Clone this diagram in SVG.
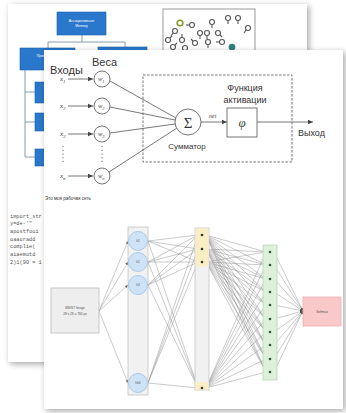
<svg xmlns="http://www.w3.org/2000/svg" width="346" height="413" viewBox="0 0 346 413">
<defs>
<filter id="sh" x="-10%" y="-10%" width="125%" height="125%">
<feDropShadow dx="2" dy="2" stdDeviation="3" flood-color="#000" flood-opacity="0.35"/>
</filter>
<marker id="ar" markerWidth="6" markerHeight="6" refX="5" refY="3" orient="auto" markerUnits="userSpaceOnUse">
<path d="M0,0.8 L5,3 L0,5.2 Z" fill="#444"/>
</marker>
<marker id="am" markerWidth="4" markerHeight="4" refX="3" refY="2" orient="auto" markerUnits="userSpaceOnUse">
<path d="M0,0.6 L3,2 L0,3.4 Z" fill="#555"/>
</marker>
</defs>
<style>
.page{fill:#fff;filter:url(#sh)}
.blue{fill:#2a78cc;stroke:#1d5ea6;stroke-width:0.6}
.wt{font-family:"Liberation Sans",sans-serif;font-size:3.5px;fill:#fff;text-anchor:middle}
.org{stroke:#8a9bb0;stroke-width:1;fill:none}
.gl{fill:none;stroke:#555;stroke-width:1.1}
.code{font-family:"Liberation Mono",monospace;font-size:5.3px;fill:#555}
.lab{font-family:"Liberation Sans",sans-serif;fill:#333}
.it{font-family:"Liberation Serif",serif;font-style:italic;fill:#444}
.wc{fill:#fff;stroke:#666;stroke-width:0.9}
.ln{stroke:#555;stroke-width:0.8;fill:none}
.nl{stroke:#888;stroke-width:0.45;fill:none;marker-end:url(#am)}
.tiny{font-family:"Liberation Sans",sans-serif;font-size:3.2px;fill:#555;text-anchor:middle}
</style>
<rect width="346" height="413" fill="#fff"/>

<g id="back-page">
<rect class="page" x="8" y="4" width="299" height="358"/>
<g id="org-chart">
<path class="org" d="M82,35 V42 M48,42 H125 M48,42 V48 M125,42 V48 M25,70 V157 M25,92 H35 M25,122 H35 M25,157 H35"/>
<rect class="blue" x="57" y="12" width="49" height="23"/>
<text class="wt" x="81.5" y="22">Ассоциативные</text>
<text class="wt" x="81.5" y="27">Memory</text>
<rect class="blue" x="20" y="48" width="55" height="22"/>
<text class="wt" x="47" y="57">Прикладные</text>
<text class="wt" x="47" y="62">Ген</text>
<rect class="blue" x="98" y="47" width="49" height="20"/>
<rect class="blue" x="35" y="82" width="20" height="21"/>
<rect class="blue" x="35" y="113" width="20" height="18"/>
<rect class="blue" x="35" y="149" width="20" height="17"/>
</g>
<g id="scatter">
<rect x="163" y="9" width="92" height="50" fill="#fff" stroke="#999" stroke-width="1"/>
<g class="gl">
<circle cx="175" cy="31" r="2.5"/><path d="M173,33 l-2,3"/>
<circle cx="180" cy="23" r="2.8" stroke="#8a9a2a" stroke-width="1.6"/>
<circle cx="192" cy="25" r="2.5"/><path d="M189,25 h-3"/>
<circle cx="200" cy="33" r="2.5"/><path d="M200,36 v3"/>
<circle cx="212" cy="22" r="2.5"/><path d="M212,25 v3"/>
<circle cx="228" cy="18" r="2.5"/><path d="M228,21 v3"/>
<circle cx="238" cy="18" r="2.5"/><path d="M238,21 v3"/>
<circle cx="248" cy="28" r="2.5"/><path d="M246,30 l-2,3"/>
<circle cx="207" cy="33" r="2.5"/><path d="M207,36 v3"/>
<circle cx="218" cy="33" r="2.5"/><path d="M220,35 l2,2"/>
<circle cx="168" cy="40" r="2.5"/><path d="M170,38 l2,-2"/>
<circle cx="182" cy="40" r="2.5"/><path d="M182,37 v-3"/>
<circle cx="195" cy="43" r="2.5"/><path d="M193,41 l-2,-2"/>
<circle cx="208" cy="42" r="2.5"/><path d="M208,45 v3"/>
<circle cx="222" cy="42" r="2.5"/><path d="M219,42 h-3"/>
<circle cx="232" cy="47" r="2.8" fill="#2f7f7a" stroke="#2f7f7a"/>
<circle cx="173" cy="47" r="2.5"/><path d="M175,45 l2,-2"/>
<circle cx="185" cy="48" r="2.5"/>
</g>
</g>
<g id="code">
<text class="code" x="10" y="218">import_str</text>
<text class="code" x="10" y="225">y=de-'"</text>
<text class="code" x="10" y="233">apostfooi</text>
<text class="code" x="10" y="241">oaaoradd</text>
<text class="code" x="10" y="248">complie(</text>
<text class="code" x="10" y="256">aiaemotd</text>
<text class="code" x="10" y="264">2)1(90 = 1</text>
</g>
</g>

<g id="front-page">
<rect class="page" x="44" y="50" width="299" height="359"/>
</g>

<g id="perceptron">
<g id="labels">
<text class="lab" x="50" y="74" font-size="11">Входы</text>
<text class="lab" x="92" y="66" font-size="11">Веса</text>
</g>
<g id="connectors-perceptron">
<line class="ln" x1="68" y1="79" x2="93" y2="79" marker-end="url(#ar)"/>
<line class="ln" x1="68" y1="106" x2="93" y2="106" marker-end="url(#ar)"/>
<line class="ln" x1="68" y1="134" x2="93" y2="134" marker-end="url(#ar)"/>
<line class="ln" x1="68" y1="176" x2="93" y2="176" marker-end="url(#ar)"/>
<line class="ln" x1="110" y1="81" x2="176" y2="118"/>
<line class="ln" x1="110" y1="107" x2="175" y2="120"/>
<line class="ln" x1="110" y1="133" x2="175" y2="124"/>
<line class="ln" x1="109" y1="172" x2="177" y2="128"/>
<line class="ln" x1="201" y1="122" x2="227" y2="122" marker-end="url(#ar)"/>
<line class="ln" x1="257" y1="122" x2="313" y2="122" marker-end="url(#ar)"/>
<path d="M63,146 v18 M102,146 v18" stroke="#666" stroke-width="1" stroke-dasharray="1.2,2.5"/>
</g>
<g id="inputs">
<text class="it" x="60" y="81" font-size="7">x<tspan font-size="5" dy="1.5">1</tspan></text>
<text class="it" x="60" y="108" font-size="7">x<tspan font-size="5" dy="1.5">2</tspan></text>
<text class="it" x="60" y="136" font-size="7">x<tspan font-size="5" dy="1.5">3</tspan></text>
<text class="it" x="60" y="178" font-size="7">x<tspan font-size="5" dy="1.5">n</tspan></text>
</g>
<g id="weights">
<circle class="wc" cx="102" cy="79" r="8"/>
<text class="it" x="98" y="81" font-size="6.5">w<tspan font-size="4.5" dy="1.5">1</tspan></text>
<circle class="wc" cx="102" cy="106" r="8"/>
<text class="it" x="98" y="108" font-size="6.5">w<tspan font-size="4.5" dy="1.5">2</tspan></text>
<circle class="wc" cx="102" cy="134" r="8"/>
<text class="it" x="98" y="136" font-size="6.5">w<tspan font-size="4.5" dy="1.5">3</tspan></text>
<circle class="wc" cx="102" cy="176" r="8"/>
<text class="it" x="98" y="178" font-size="6.5">w<tspan font-size="4.5" dy="1.5">n</tspan></text>
</g>
<g id="activation-frame">
<rect x="143" y="75" width="149" height="87" fill="none" stroke="#666" stroke-width="0.9" stroke-dasharray="2.5,1.5"/>
<text class="lab" x="245" y="91" font-size="9" text-anchor="middle">Функция</text>
<text class="lab" x="245" y="103" font-size="9" text-anchor="middle">активации</text>
</g>
<g id="summator">
<circle class="wc" cx="188" cy="122" r="13"/>
<text x="188" y="127.5" font-family="Liberation Serif,serif" font-size="15" fill="#333" text-anchor="middle">Σ</text>
<text class="lab" x="187" y="149" font-size="8" text-anchor="middle">Сумматор</text>
<text class="it" x="209" y="118" font-size="6">net</text>
</g>
<g id="activation">
<rect x="227" y="108" width="30" height="29" fill="#fff" stroke="#666" stroke-width="0.9"/>
<text class="it" x="242" y="127" font-size="13" text-anchor="middle">φ</text>
</g>
<g id="output">
<text class="lab" x="298" y="136" font-size="9">Выход</text>
</g>
<text class="lab" x="45" y="200" font-size="4.5" fill="#666">Это моя рабочая сеть</text>
</g>

<g id="network">
<g id="connectors">
<g id="c-in">
<line class="nl" x1="99" y1="311" x2="128" y2="241"/>
<line class="nl" x1="99" y1="311" x2="128" y2="262"/>
<line class="nl" x1="99" y1="311" x2="128" y2="285"/>
<line class="nl" x1="99" y1="311" x2="128" y2="383"/>
</g>
<g id="c-12">
<line class="nl" x1="148" y1="241" x2="198" y2="235"/><line class="nl" x1="148" y1="241" x2="198" y2="249"/><line class="nl" x1="148" y1="241" x2="198" y2="262"/><line class="nl" x1="148" y1="241" x2="198" y2="388"/>
<line class="nl" x1="148" y1="262" x2="198" y2="235"/><line class="nl" x1="148" y1="262" x2="198" y2="249"/><line class="nl" x1="148" y1="262" x2="198" y2="262"/><line class="nl" x1="148" y1="262" x2="198" y2="388"/>
<line class="nl" x1="148" y1="285" x2="198" y2="235"/><line class="nl" x1="148" y1="285" x2="198" y2="249"/><line class="nl" x1="148" y1="285" x2="198" y2="262"/><line class="nl" x1="148" y1="285" x2="198" y2="388"/>
<line class="nl" x1="148" y1="383" x2="198" y2="235"/><line class="nl" x1="148" y1="383" x2="198" y2="249"/><line class="nl" x1="148" y1="383" x2="198" y2="262"/><line class="nl" x1="148" y1="383" x2="198" y2="388"/>
</g>
<g id="c-23">
<line class="nl" x1="206" y1="235" x2="266" y2="252"/><line class="nl" x1="206" y1="235" x2="266" y2="265"/><line class="nl" x1="206" y1="235" x2="266" y2="279"/><line class="nl" x1="206" y1="235" x2="266" y2="292"/><line class="nl" x1="206" y1="235" x2="266" y2="305"/><line class="nl" x1="206" y1="235" x2="266" y2="319"/><line class="nl" x1="206" y1="235" x2="266" y2="332"/><line class="nl" x1="206" y1="235" x2="266" y2="345"/><line class="nl" x1="206" y1="235" x2="266" y2="359"/><line class="nl" x1="206" y1="235" x2="266" y2="372"/>
<line class="nl" x1="206" y1="249" x2="266" y2="252"/><line class="nl" x1="206" y1="249" x2="266" y2="265"/><line class="nl" x1="206" y1="249" x2="266" y2="279"/><line class="nl" x1="206" y1="249" x2="266" y2="292"/><line class="nl" x1="206" y1="249" x2="266" y2="305"/><line class="nl" x1="206" y1="249" x2="266" y2="319"/><line class="nl" x1="206" y1="249" x2="266" y2="332"/><line class="nl" x1="206" y1="249" x2="266" y2="345"/><line class="nl" x1="206" y1="249" x2="266" y2="359"/><line class="nl" x1="206" y1="249" x2="266" y2="372"/>
<line class="nl" x1="206" y1="262" x2="266" y2="252"/><line class="nl" x1="206" y1="262" x2="266" y2="265"/><line class="nl" x1="206" y1="262" x2="266" y2="279"/><line class="nl" x1="206" y1="262" x2="266" y2="292"/><line class="nl" x1="206" y1="262" x2="266" y2="305"/><line class="nl" x1="206" y1="262" x2="266" y2="319"/><line class="nl" x1="206" y1="262" x2="266" y2="332"/><line class="nl" x1="206" y1="262" x2="266" y2="345"/><line class="nl" x1="206" y1="262" x2="266" y2="359"/><line class="nl" x1="206" y1="262" x2="266" y2="372"/>
<line class="nl" x1="206" y1="388" x2="266" y2="252"/><line class="nl" x1="206" y1="388" x2="266" y2="265"/><line class="nl" x1="206" y1="388" x2="266" y2="279"/><line class="nl" x1="206" y1="388" x2="266" y2="292"/><line class="nl" x1="206" y1="388" x2="266" y2="305"/><line class="nl" x1="206" y1="388" x2="266" y2="319"/><line class="nl" x1="206" y1="388" x2="266" y2="332"/><line class="nl" x1="206" y1="388" x2="266" y2="345"/><line class="nl" x1="206" y1="388" x2="266" y2="359"/><line class="nl" x1="206" y1="388" x2="266" y2="372"/>
</g>
<g id="c-out">
<line class="nl" x1="274" y1="252" x2="303" y2="311"/><line class="nl" x1="274" y1="265" x2="303" y2="311"/><line class="nl" x1="274" y1="279" x2="303" y2="311"/><line class="nl" x1="274" y1="292" x2="303" y2="311"/><line class="nl" x1="274" y1="305" x2="303" y2="311"/><line class="nl" x1="274" y1="319" x2="303" y2="311"/><line class="nl" x1="274" y1="332" x2="303" y2="311"/><line class="nl" x1="274" y1="345" x2="303" y2="311"/><line class="nl" x1="274" y1="359" x2="303" y2="311"/><line class="nl" x1="274" y1="372" x2="303" y2="311"/>
</g>
</g>
<g id="mnist">
<rect x="51" y="288" width="48" height="45" fill="#eeeeee" stroke="#bbb" stroke-width="0.8"/>
<text class="tiny" x="75" y="309" font-size="4">MNIST Image</text>
<text class="tiny" x="75" y="315" font-size="4">28 x 28 = 784 px</text>
</g>
<g id="layer1">
<rect x="128" y="227" width="20" height="168" fill="#f1f1f1" stroke="#c4c4c4" stroke-width="0.8"/>
<g fill="#cfe3f7" stroke="#9cc3e6" stroke-width="0.8">
<circle cx="138" cy="241" r="9.5"/><circle cx="138" cy="262" r="9.5"/><circle cx="138" cy="285" r="9.5"/><circle cx="138" cy="383" r="9.5"/>
</g>
<text class="tiny" x="138" y="242">h1</text><text class="tiny" x="138" y="263">h2</text><text class="tiny" x="138" y="286">h3</text><text class="tiny" x="138" y="384">h64</text>
</g>
<g id="layer2">
<rect x="195" y="228" width="14" height="162" fill="#f1f1f1" stroke="#c4c4c4" stroke-width="0.8"/>
<rect x="195.4" y="228.4" width="13.2" height="38" fill="#faefc4"/>
<rect x="195.4" y="382" width="13.2" height="7.6" fill="#faefc4"/>
<g fill="#333"><circle cx="202" cy="235" r="1.3"/><circle cx="202" cy="249" r="1.3"/><circle cx="202" cy="262" r="1.3"/><circle cx="202" cy="388" r="1.3"/></g>
</g>
<g id="layer3">
<rect x="263" y="245" width="14" height="135" fill="#dcf0da" stroke="#b7d8b4" stroke-width="0.8"/>
<g fill="#2e5a2e"><circle cx="270" cy="252" r="1.3"/><circle cx="270" cy="265" r="1.3"/><circle cx="270" cy="279" r="1.3"/><circle cx="270" cy="292" r="1.3"/><circle cx="270" cy="305" r="1.3"/><circle cx="270" cy="319" r="1.3"/><circle cx="270" cy="332" r="1.3"/><circle cx="270" cy="345" r="1.3"/><circle cx="270" cy="359" r="1.3"/><circle cx="270" cy="372" r="1.3"/></g>
</g>
<g id="softmax">
<rect x="303" y="297" width="38" height="29" fill="#f9c9c9" stroke="#eeb0b0" stroke-width="0.8"/>
<text class="tiny" x="322" y="313" font-size="4.5">Softmax</text>
</g>
</g>
</svg>
